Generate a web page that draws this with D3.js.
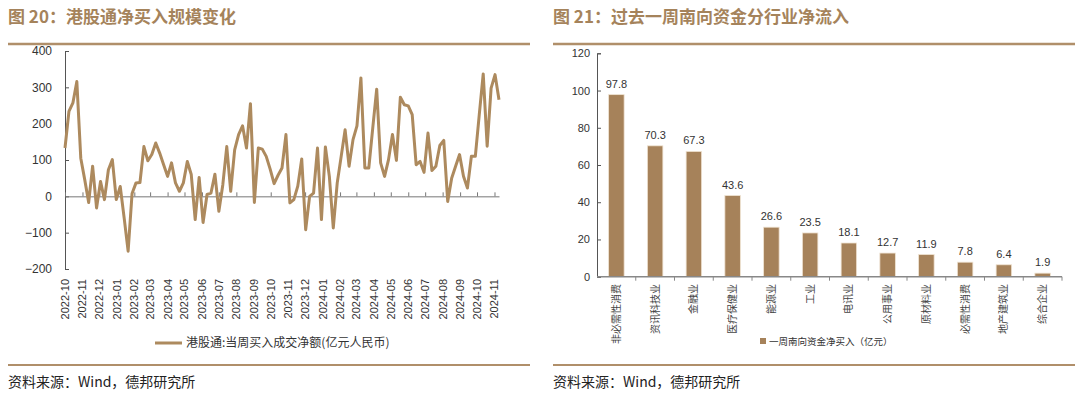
<!DOCTYPE html>
<html>
<head>
<meta charset="utf-8">
<script src="https://cdn.jsdelivr.net/npm/d3@7"></script>
<style>
  body { margin: 0; background: #fff; }
  text { font-family: "Liberation Sans", Arial, "Noto Sans CJK SC", sans-serif; }
  .cjk { font-family: "Noto Sans CJK SC", sans-serif; }
</style>
</head>
<body>
<div id="chart"></div>
<script>
// left chart: weekly net buy via southbound connect (亿元), first week 2022-10-01
var weekStart = new Date(2022, 9, 1);
var netBuy = [133, 234, 257, 316, 105, 46, -17, 83, -32, 41,
  -9, 73, 101, -9, 27, -60, -151, 8, 37, 38,
  137, 98, 115, 147, 119, 87, 55, 92, 37, 14,
  37, 96, 60, -64, 52, -72, 5, 9, 61, -41,
  32, 137, 14, 128, 170, 194, 133, 255, -17, 133,
  130, 110, 75, 35, 58, 78, 170, -18, -9, 28,
  103, -92, 0, 9, 133, -64, 136, 55, -87, 37,
  110, 183, 83, 156, 194, 326, 78, 78, 188, 295,
  92, 55, 101, 170, 99, 273, 252, 249, 225, 87,
  96, 66, 174, 71, 83, 140, 154, -14, 50, 83,
  115, 55, 23, 110, 110, 225, 337, 138, 298, 335,
  266];
var leftTicks = [400, 300, 200, 100, 0, -100, -200];

// right chart: one-week southbound inflow by industry
var industries = ["非必需性消费", "资讯科技业", "金融业", "医疗保健业", "能源业", "工业",
  "电讯业", "公用事业", "原材料业", "必需性消费", "地产建筑业", "综合企业"];
var inflow = [97.8, 70.3, 67.3, 43.6, 26.6, 23.5, 18.1, 12.7, 11.9, 7.8, 6.4, 1.9];
var rightTicks = [0, 20, 40, 60, 80, 100, 120];

var brown = "#a6825a";
var titleColor = "#a5835b";

var svg = d3.select("#chart").append("svg")
  .attr("width", 1080)
  .attr("height", 395);

// titles, rules, sources
function header(x0, x1, title) {
  svg.append("text").attr("class", "cjk")
    .attr("x", x0).attr("y", 23)
    .style("font-size", "17px").style("font-weight", "bold")
    .attr("fill", titleColor)
    .text(title);
  svg.append("line")
    .attr("x1", x0).attr("x2", x1).attr("y1", 44).attr("y2", 44)
    .attr("stroke", "#b08f6a").attr("stroke-width", 2.5);
  svg.append("line")
    .attr("x1", x0).attr("x2", x1).attr("y1", 365).attr("y2", 365)
    .attr("stroke", "#b08f6a").attr("stroke-width", 2);
  svg.append("text").attr("class", "cjk")
    .attr("x", x0).attr("y", 387)
    .style("font-size", "14px").attr("fill", "#222")
    .text("资料来源：Wind，德邦研究所");
}
header(8, 530, "图 20：港股通净买入规模变化");
header(553, 1075, "图 21：过去一周南向资金分行业净流入");

// ---------- left line chart ----------
var dates = netBuy.map((v, i) => d3.timeDay.offset(weekStart, i * 7));
var x = d3.scaleTime()
  .domain([dates[0], dates[dates.length - 1]])
  .range([65, 499]);
var y = d3.scaleLinear().domain([-200, 400]).range([269, 51]);

var yAxisL = svg.append("g")
  .attr("transform", "translate(65,0)")
  .call(d3.axisRight(y).tickValues(leftTicks).tickSize(4).tickFormat(d3.format("d")));
yAxisL.select(".domain").attr("stroke", "#555");
yAxisL.selectAll(".tick line").attr("stroke", "#555");
yAxisL.selectAll(".tick text")
  .attr("x", -13).attr("text-anchor", "end")
  .style("font-size", "12px").attr("fill", "#333");

var months = d3.timeMonth.range(new Date(2022, 9, 1), new Date(2024, 10, 2));
var xAxisL = svg.append("g")
  .attr("transform", "translate(0," + y(0) + ")")
  .call(d3.axisTop(x).tickValues(months).tickSize(4).tickSizeOuter(0).tickFormat(""));
xAxisL.select(".domain").attr("stroke", "#777");
xAxisL.selectAll(".tick line").attr("stroke", "#777");

svg.append("g").selectAll("text")
  .data(months)
  .enter()
  .append("text")
    .attr("transform", d => "translate(" + (x(d) + 4) + ",279) rotate(-90)")
    .attr("text-anchor", "end")
    .style("font-size", "11px")
    .attr("fill", "#333")
    .text(d3.timeFormat("%Y-%m"));

var line = d3.line()
  .x((d, i) => x(dates[i]))
  .y(d => y(d));
svg.append("path")
  .datum(netBuy)
  .attr("fill", "none")
  .attr("stroke", "#ad8a5e")
  .attr("stroke-width", 3)
  .attr("stroke-linejoin", "round")
  .attr("d", line);

// legend
svg.append("line")
  .attr("x1", 155).attr("x2", 182).attr("y1", 343).attr("y2", 343)
  .attr("stroke", "#ad8a5e").attr("stroke-width", 3);
svg.append("text").attr("class", "cjk")
  .attr("x", 186).attr("y", 347)
  .style("font-size", "12px").attr("fill", "#333")
  .text("港股通:当周买入成交净额(亿元人民币)");

// ---------- right bar chart ----------
var xb = d3.scaleBand().domain(industries).range([597, 1062]).paddingInner(0.6).paddingOuter(0.3);
var yb = d3.scaleLinear().domain([0, 120]).range([276.7, 53.3]);

var yAxisR = svg.append("g")
  .attr("transform", "translate(597,0)")
  .call(d3.axisRight(yb).tickValues(rightTicks).tickSize(4));
yAxisR.select(".domain").attr("stroke", "#555");
yAxisR.selectAll(".tick line").attr("stroke", "#555");
yAxisR.selectAll(".tick text")
  .attr("x", -7).attr("text-anchor", "end")
  .style("font-size", "11px").attr("fill", "#333");

svg.append("g").selectAll("rect")
  .data(inflow)
  .enter()
  .append("rect")
    .attr("x", (d, i) => xb(industries[i]))
    .attr("width", xb.bandwidth())
    .attr("y", d => yb(d))
    .attr("height", d => yb(0) - yb(d))
    .attr("fill", brown)
    .attr("stroke", "#efe3d2")
    .attr("stroke-width", 0.8);

svg.append("g").selectAll("text")
  .data(inflow)
  .enter()
  .append("text")
    .attr("x", (d, i) => xb(industries[i]) + xb.bandwidth() / 2)
    .attr("y", d => yb(d) - 7)
    .attr("text-anchor", "middle")
    .style("font-size", "11px")
    .attr("fill", "#333")
    .text(d => d3.format(".1f")(d));

var step = (1062 - 597) / industries.length;
var xAxisR = svg.append("g")
  .attr("transform", "translate(0," + yb(0) + ")");
xAxisR.append("line")
  .attr("x1", 597).attr("x2", 1062)
  .attr("stroke", "#888").attr("stroke-width", 1.5);
xAxisR.selectAll(".tk")
  .data(d3.range(1, industries.length + 1))
  .enter()
  .append("line")
    .attr("x1", d => 597 + d * step).attr("x2", d => 597 + d * step)
    .attr("y1", 0).attr("y2", 4)
    .attr("stroke", "#888");

svg.append("g").selectAll("text")
  .data(industries)
  .enter()
  .append("text")
    .attr("class", "cjk")
    .attr("transform", d => "translate(" + (xb(d) + xb.bandwidth() / 2 + 3.5) + ",284) rotate(-90)")
    .attr("text-anchor", "end")
    .style("font-size", "10px")
    .attr("fill", "#444")
    .text(d => d);

svg.append("rect")
  .attr("x", 760).attr("y", 338).attr("width", 6).attr("height", 6)
  .attr("fill", brown);
svg.append("text").attr("class", "cjk")
  .attr("x", 769).attr("y", 345)
  .style("font-size", "9.5px").attr("fill", "#333")
  .text("一周南向资金净买入（亿元）");
</script>
</body>
</html>
